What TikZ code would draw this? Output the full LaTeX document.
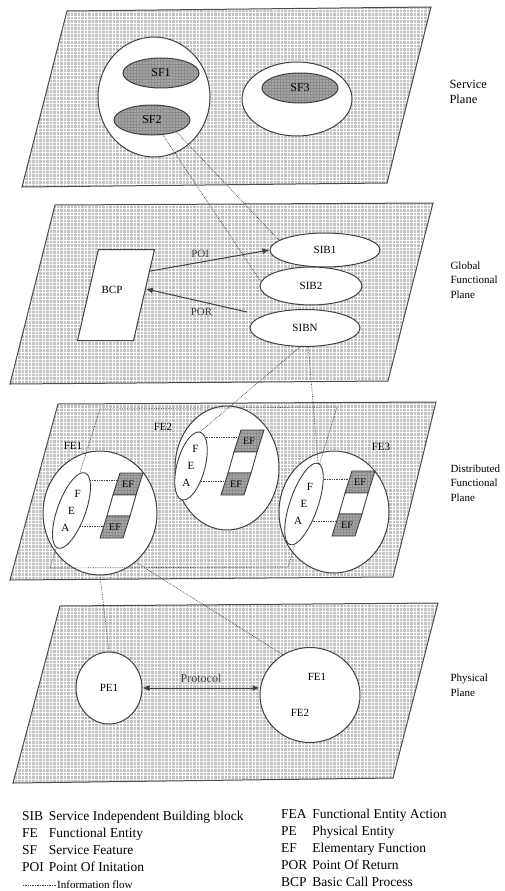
\documentclass[tikz,border=0pt]{standalone}
\usepackage{fontspec}
\setmainfont{Liberation Serif}
\usetikzlibrary{arrows.meta, calc, shapes.geometric, patterns.meta}
\tikzset{
  plane/.style={draw=black!70, line width=1pt, preaction={fill=black!24},
    pattern={Hatch[angle=0, distance=3.5pt, line width=0.8pt]}, pattern color=white},
  blob/.style={draw=black!75, line width=1pt, fill=white, ellipse, inner sep=0pt},
  sfnode/.style={draw=black!75, line width=1pt, ellipse, inner sep=0pt, preaction={fill=black!45},
    pattern={Dots[distance=3pt, radius=0.7pt]}, pattern color=white,
    minimum width=76pt, minimum height=30pt, font=\fontsize{12}{12}\selectfont},
  bcpbox/.style={draw=black!75, line width=1pt, fill=white, rectangle, xslant=0.23,
    minimum width=56pt, minimum height=91pt, inner sep=0pt},
  feabox/.style={draw=black!75, line width=0.9pt, fill=white, ellipse, inner sep=0pt, minimum width=28pt},
  efcell/.style={draw=black!75, line width=0.9pt, preaction={fill=black!45},
    pattern={Dots[distance=3pt, radius=0.7pt]}, pattern color=white},
  efblank/.style={draw=black!75, line width=0.9pt, fill=white},
  lbl/.style={font=\fontsize{11}{11}\selectfont, inner sep=1pt},
  eftext/.style={font=\fontsize{10}{10}\selectfont, inner sep=0pt},
  flow/.style={densely dotted, line width=0.7pt, black!75},
  arr/.style={-{Latex[length=7pt, width=6pt]}, line width=1pt, black!75},
  darr/.style={{Latex[length=7pt, width=6pt]}-{Latex[length=7pt, width=6pt]}, line width=1pt, black!75},
  planelbl/.style={anchor=west, align=left, font=\fontsize{11}{14.5}\selectfont},
  key/.style={font=\fontsize{13.5}{17}\selectfont, inner sep=0pt},
}
\newcommand{\efcolumn}[2]{% #1 name, #2 top left corner
  \coordinate (#1) at #2;
  \draw[efcell] (#1) -- ++(23,0) -- ++(-7,22) -- ++(-23,0) -- cycle;
  \draw[efblank] ($(#1)+(-7,22)$) -- ++(23,0) -- ++(-6,21) -- ++(-23,0) -- cycle;
  \draw[efcell] ($(#1)+(-13,43)$) -- ++(23,0) -- ++(-7,22) -- ++(-23,0) -- cycle;
  \node[eftext] (#1top) at ($(#1)+(8,11)$) {EF};
  \node[eftext] (#1bot) at ($(#1)+(-5,54)$) {EF};
  \coordinate (#1a) at ($(#1)+(-3.5,11)$);
  \coordinate (#1b) at ($(#1)+(-16.5,54)$);
}
\newcommand{\feanode}[4]{% #1 name, #2 centre, #3 half length, #4 tilt
  \node[feabox, minimum height=#3*2pt, rotate=-#4] (#1) at #2 {};
  \node[lbl] (#1f) at ($(#1)+({17*tan(#4)},-17)$) {F};
  \node[lbl] (#1e) at (#1) {E};
  \node[lbl] (#1a) at ($(#1)+({-17*tan(#4)},17)$) {A};
}
\begin{document}
\begin{tikzpicture}[x=1pt, y=-1pt]
  \useasboundingbox (0,0) rectangle (504,891);
  % planes
  \draw[plane] (67,11) -- (431,7) -- (387,183) -- (22,187) -- cycle;
  \draw[plane] (55,205) -- (433,203) -- (388,381) -- (10,384) -- cycle;
  \draw[plane] (58,404) -- (436,402) -- (393,577) -- (10,580) -- cycle;
  \draw[plane] (60,606) -- (438,603) -- (393,778) -- (13,783) -- cycle;
  \node[planelbl, font=\fontsize{12.5}{15}\selectfont] (lblsp) at (446,92) {Service\\Plane};
  \node[planelbl] (lblgfp) at (447,280) {Global\\Functional\\Plane};
  \node[planelbl] (lbldfp) at (447,483) {Distributed\\Functional\\Plane};
  \node[planelbl] (lblpp) at (447,685) {Physical\\Plane};

  % service plane
  \node[blob, minimum width=112pt, minimum height=120pt] (svc1) at (154,97) {};
  \node[blob, minimum width=110pt, minimum height=74pt] (svc2) at (297,99) {};
  \node[sfnode] (sf1) at (161,73) {SF1};
  \node[sfnode] (sf2) at (152,120) {SF2};
  \node[sfnode] (sf3) at (300,88) {SF3};

  % global functional plane
  \node[bcpbox] (bcp) at (116,295) {};
  \node[lbl] (bcptxt) at (112,290) {BCP};
  \node[blob, lbl, minimum width=110pt, minimum height=34pt] (sib1) at (325,250) {SIB1};
  \node[blob, lbl, minimum width=102pt, minimum height=38pt] (sib2) at (311,286) {SIB2};
  \node[blob, lbl, minimum width=110pt, minimum height=37pt] (sibn) at (305,328) {SIBN};
  \draw[arr] (bcp.40) -- node[lbl, pos=.42, above=3pt] (poi) {POI} (sib1.west);
  \coordinate (porstart) at (247,312);
  \draw[arr] (porstart) -- node[lbl, pos=.45, below=5pt] (por) {POR} (bcp.12);

  % distributed functional plane
  \node[blob, minimum width=114pt, minimum height=124pt] (fe1) at (100,513) {};
  \node[blob, minimum width=104pt, minimum height=124pt] (fe2) at (227,468) {};
  \node[blob, minimum width=110pt, minimum height=122pt] (fe3) at (334,512) {};
  \node[lbl] (fe1lbl) at (73,446) {FE1};
  \node[lbl] (fe2lbl) at (163,427) {FE2};
  \node[lbl] (fe3lbl) at (381,447) {FE3};
  \draw[flow] (100,409) -- (337,407) -- (288,567) -- (50,568) -- cycle;
  \feanode{fea1}{(71.5,510.5)}{40}{20}
  \feanode{fea2}{(191,466)}{35}{15}
  \feanode{fea3}{(304,504)}{43}{19}
  \efcolumn{ef1}{(120,473)}
  \efcolumn{ef2}{(241,430)}
  \efcolumn{ef3}{(352,471)}
  \draw[flow] (fea1.78) -- (fea1.78 -| ef1a);
  \draw[flow] (fea1.-42) -- (fea1.-42 -| ef1b);
  \draw[flow] (fea2.78) -- (fea2.78 -| ef2a);
  \draw[flow] (fea2.-42) -- (fea2.-42 -| ef2b);
  \draw[flow] (fea3.70) -- (fea3.70 -| ef3a);
  \draw[flow] (fea3.-45) -- (fea3.-45 -| ef3b);

  % physical plane
  \node[blob, lbl, minimum width=66pt, minimum height=72pt] (pe1) at (109,688) {PE1};
  \node[blob, minimum width=100pt, minimum height=95pt] (pe2) at (310,695) {};
  \node[lbl] (pe2fe1) at (317,677) {FE1};
  \node[lbl] (pe2fe2) at (300,713) {FE2};
  \draw[darr] (pe1.east) -- node[lbl, font=\fontsize{12}{12}\selectfont, above=4pt] (proto) {Protocol} (pe1.east -| pe2.west);

  % information flow between planes
  \draw[flow] (sf2.-54) -- (sib2.175);
  \draw[flow] (sf2.-26) -- (sib1.168);
  \draw[flow] (sibn.-105) -- (fea2.north);
  \draw[flow] (sibn.-80) -- (fea3.north);
  \draw[flow] (fe1.south) -- (pe1.north);
  \draw[flow] (fe1.-54) -- (pe2.124);

  % legend
  \node[key, anchor=base west] (keyleft) at (22,820) {\begin{tabular}[t]{@{}l@{\hspace{5pt}}l@{}}
    SIB & Service Independent Building block\\
    FE & Functional Entity\\
    SF & Service Feature\\
    POI & Point Of Initation\end{tabular}};
  \node[key, anchor=base west] (keyright) at (281,818) {\begin{tabular}[t]{@{}l@{\hspace{5pt}}l@{}}
    FEA & Functional Entity Action\\
    PE & Physical Entity\\
    EF & Elementary Function\\
    POR & Point Of Return\\
    BCP & Basic Call Process\end{tabular}};
  \coordinate (flowa) at (23,885);
  \coordinate (flowb) at (56,885);
  \draw[flow] (flowa) -- (flowb);
  \node[lbl, anchor=west] (flowtxt) at (flowb) {Information flow};
\end{tikzpicture}
\end{document}
